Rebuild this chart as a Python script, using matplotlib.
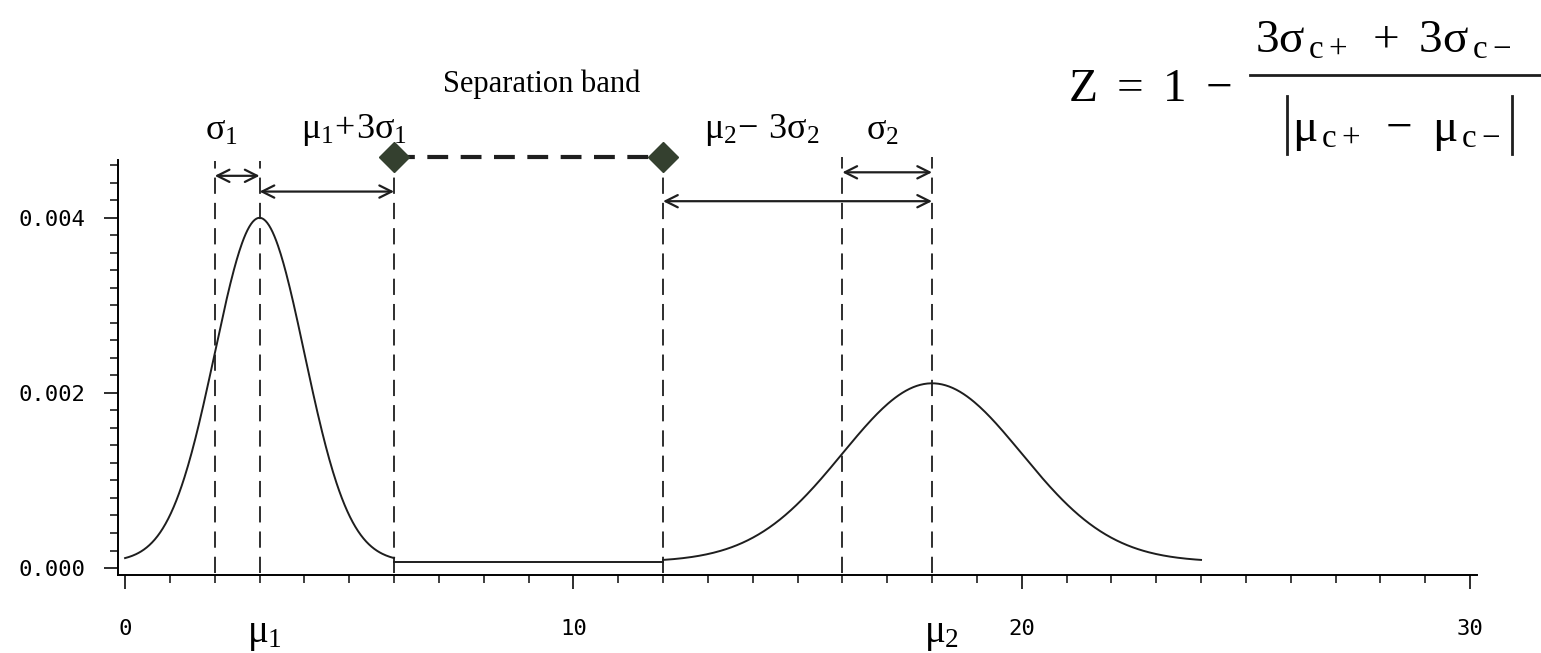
import numpy as np
import matplotlib.pyplot as plt
from matplotlib.lines import Line2D
from matplotlib.ticker import MultipleLocator

# two class distributions
MU = [3, 18]
SIGMA = [1, 2]
PEAK = [0.00393, 0.00204]
FLOOR = 0.00007
X_END = [6, 24]      # where each curve is drawn to
X_START = [0, 12]

INK = "#1e1e1e"
MARK = "#34402f"

# upright Times-like symbols in math text
plt.rcParams['mathtext.fontset'] = 'custom'
plt.rcParams['mathtext.rm'] = 'Liberation Serif'
plt.rcParams['mathtext.it'] = 'Liberation Serif'
plt.rcParams['mathtext.bf'] = 'Liberation Serif:bold'
SERIF = ['Liberation Serif', 'DejaVu Serif']
MONO = ['DejaVu Sans Mono']

W, H = 1541, 653
fig = plt.figure(figsize=(W / 100, H / 100), dpi=100)
ax = fig.add_axes([0.0768, 0.1194, 0.8815, 0.6355])

# curves: gaussian 1, flat gap, gaussian 2
for m, s, p, a, b in zip(MU, SIGMA, PEAK, X_START, X_END):
    x = np.linspace(a, b, 300)
    y = FLOOR + p * np.exp(-0.5 * ((x - m) / s) ** 2)
    ax.plot(x, y, color=INK, lw=1.4)
ax.plot([X_END[0], X_START[1]], [FLOOR, FLOOR], color=INK, lw=1.4)

# guide lines
lo1, hi1 = MU[0] - SIGMA[0], MU[0] + 3 * SIGMA[0]
lo2, hi2 = MU[1] - 3 * SIGMA[1], MU[1] - SIGMA[1]
for xv, top in [(lo1, 0.00465), (MU[0], 0.00465), (hi1, 0.00465),
                (lo2, 0.00470), (hi2, 0.00470), (MU[1], 0.00470)]:
    ax.plot([xv, xv], [-0.00006, top], color=INK, lw=1.3,
            dashes=(9, 5), clip_on=False)

def span(x0, x1, y):
    ax.annotate("", xy=(x1, y), xytext=(x0, y),
                arrowprops=dict(arrowstyle="<->", color=INK, lw=1.6,
                                mutation_scale=22, shrinkA=0, shrinkB=0))

span(lo1, MU[0], 0.00448)
span(MU[0], hi1, 0.00430)
span(hi2, MU[1], 0.00452)
span(lo2, MU[1], 0.00419)

# separation band
ax.plot([hi1, lo2], [0.00469, 0.00469], color=INK, lw=3, dashes=(5, 3),
        clip_on=False)
ax.plot([hi1, lo2], [0.00469, 0.00469], ls="none", marker="D", ms=15,
        color=MARK, clip_on=False)

ax.text(9.3, 0.00553, "Separation band", fontsize=22, family=SERIF,
        ha="center", va="center")
ax.text(2.15, 0.00500, r"$\sigma_1$", fontsize=26, ha="center", va="center")
ax.text(5.1, 0.00500, r"$\mu_1\!+\!3\sigma_1$", fontsize=26, ha="center", va="center")
ax.text(14.2, 0.00500, r"$\mu_2\!-\,3\sigma_2$", fontsize=26, ha="center", va="center")
ax.text(16.9, 0.00500, r"$\sigma_2$", fontsize=26, ha="center", va="center")
ax.text(3.1, -0.00075, r"$\mu_1$", fontsize=28, ha="center", va="center")
ax.text(18.2, -0.00075, r"$\mu_2$", fontsize=28, ha="center", va="center")

# Z score formula, laid out piece by piece (pixel positions from top-left)
def ftext(px, py, s, size):
    fig.text(px / W, 1 - py / H, s, fontsize=size, ha="left", va="baseline")

def fline(x0, y0, x1, y1):
    fig.add_artist(Line2D([x0 / W, x1 / W], [1 - y0 / H, 1 - y1 / H],
                          color=INK, lw=2))

ftext(1068, 101, r"$\mathrm{Z}\ =\ 1\ -$", 34)
ftext(1255, 53, r"$3\sigma_{\,c+}\ +\ 3\sigma_{\,c-}$", 34)
fline(1250, 75, 1545, 75)
ftext(1292, 141, r"$\mu_{\,c+}\ -\ \mu_{\,c-}$", 34)
fline(1287, 96, 1287, 154)
fline(1512, 96, 1512, 154)

ax.set_xlim(-0.15, 30.15)
ax.set_ylim(-0.00008, 0.00466)
ax.spines[['top', 'right']].set_visible(False)
ax.spines[['left', 'bottom']].set_linewidth(1.4)

ax.xaxis.set_major_locator(MultipleLocator(10))
ax.xaxis.set_minor_locator(MultipleLocator(1))
ax.yaxis.set_major_locator(MultipleLocator(0.002))
ax.yaxis.set_minor_locator(MultipleLocator(0.0002))
ax.set_yticks([0, 0.002, 0.004])
ax.set_yticklabels(["0.000", "0.002", "0.004"], family=MONO)
ax.set_xticks([0, 10, 20, 30])
ax.set_xticklabels(["0", "10", "20", "30"], family=MONO)
ax.tick_params(which="major", length=10, width=1.3, labelsize=16, color=INK)
ax.tick_params(which="minor", length=6, width=1.2, color=INK)
ax.tick_params(axis="x", which="major", pad=22)
ax.tick_params(axis="y", which="major", pad=14)

fig.savefig("out.png", dpi=100)
